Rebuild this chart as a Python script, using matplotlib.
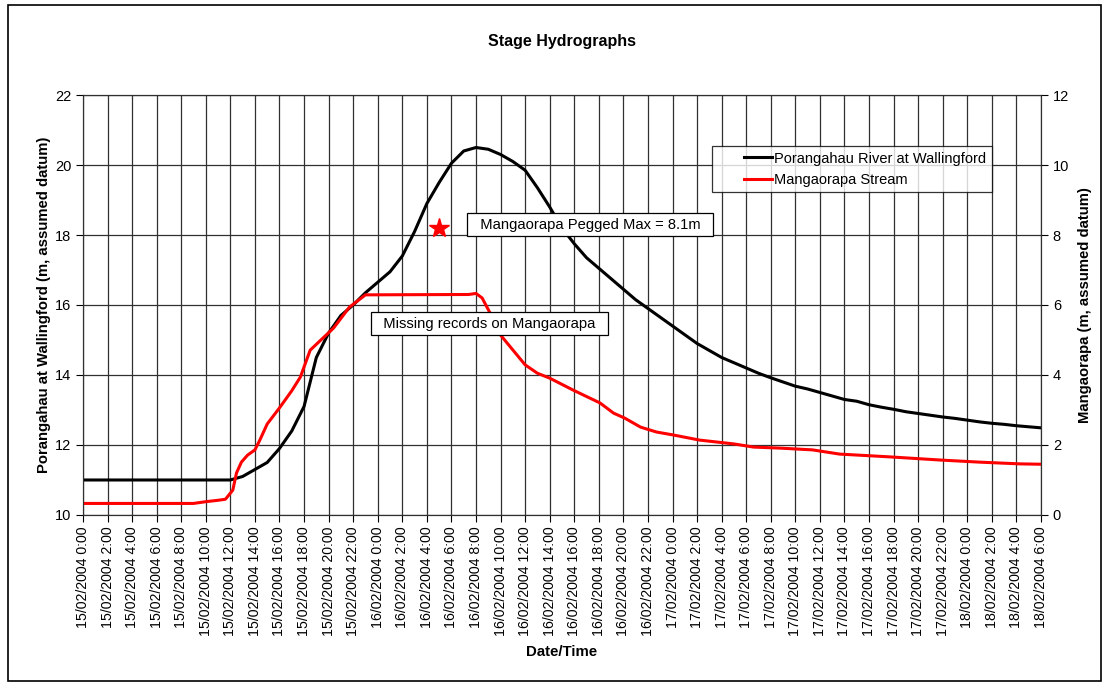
import numpy as np
import pandas as pd
import matplotlib
matplotlib.use('Agg')
import matplotlib.pyplot as plt
from matplotlib.patches import Rectangle
from matplotlib.legend_handler import HandlerLine2D

plt.rcParams['font.family'] = ['Liberation Sans', 'DejaVu Sans']

# hours after 15/02/2004 0:00
porangahau_hours = list(range(0, 79))
porangahau_stage = [11.0] * 13 + [
    11.1, 11.3, 11.5, 11.9, 12.4, 13.1, 14.5, 15.2, 15.7, 16.0,
    16.35, 16.65, 16.95, 17.4, 18.1, 18.9, 19.5, 20.05, 20.4, 20.5,
    20.45, 20.3, 20.1, 19.85, 19.35, 18.8, 18.2, 17.75, 17.35, 17.05,
    16.75, 16.45, 16.15, 15.9, 15.65, 15.4, 15.15, 14.9, 14.7, 14.5,
    14.35, 14.2, 14.05, 13.92, 13.8, 13.68, 13.6, 13.5, 13.4, 13.3,
    13.25, 13.15, 13.08, 13.02, 12.95, 12.9, 12.85, 12.8, 12.76, 12.71,
    12.66, 12.62, 12.59, 12.55, 12.52, 12.49]

mangaorapa_hours = [0, 9, 10, 11, 11.6, 12.2, 12.5, 12.9, 13.4, 14.0, 14.4,
                    15, 16, 17, 17.7, 18.5, 19.1, 20.4, 21.7, 23.0, 31.4, 32.0,
                    32.5, 33.1, 34.0, 34.8, 36.0, 37, 38.0, 39.9, 42.1, 43.2, 44.1,
                    45.4, 46.7, 48.0, 50.2, 53.0, 54.6, 56.8, 59.4, 61.6, 65.7,
                    69.8, 73.0, 76.3, 78]
mangaorapa_stage = [0.33, 0.33, 0.38, 0.42, 0.45, 0.71, 1.2, 1.51, 1.71, 1.86, 2.14,
                    2.6, 3.06, 3.55, 3.94, 4.71, 4.91, 5.34, 5.94, 6.29, 6.3, 6.33,
                    6.2, 5.8, 5.14, 4.8, 4.29, 4.05, 3.91, 3.57, 3.2, 2.91, 2.77,
                    2.51, 2.37, 2.29, 2.14, 2.03, 1.94, 1.91, 1.86, 1.74, 1.66,
                    1.57, 1.51, 1.46, 1.45]

pegged_max_hour = 29.0
pegged_max_stage = 8.2

tick_times = pd.date_range('2004-02-15 00:00', '2004-02-18 06:00', freq='2h')
tick_labels = [f'{t.day:02d}/{t.month:02d}/{t.year} {t.hour}:00' for t in tick_times]
tick_hours = list(range(0, 79, 2))


class ShortLineHandler(HandlerLine2D):
    # excel style: short line sitting at the right of the key area
    def create_artists(self, legend, orig_handle, xdescent, ydescent, width,
                       height, fontsize, trans):
        artists = super().create_artists(legend, orig_handle, xdescent, ydescent,
                                         width, height, fontsize, trans)
        for a in artists:
            n = len(a.get_xdata())
            if n >= 2:
                a.set_xdata(np.linspace(-xdescent + width * 0.5, -xdescent + width, n))
        return artists


def main():
    fig = plt.figure(figsize=(11.09, 6.85), dpi=100)
    ax = fig.add_axes([0.0748, 0.2482, 0.8639, 0.6131])
    ax2 = ax.twinx()

    fig.add_artist(Rectangle((8 / 1109, 4 / 685), 1093 / 1109, 676 / 685,
                             transform=fig.transFigure, fill=False,
                             edgecolor='black', linewidth=1.2))

    l1, = ax.plot(porangahau_hours, porangahau_stage, color='black', lw=2.2,
                  label='Porangahau River at Wallingford')
    l2, = ax2.plot(mangaorapa_hours, mangaorapa_stage, color='#ff0000', lw=2.2,
                   label='Mangaorapa Stream')
    ax2.plot([pegged_max_hour], [pegged_max_stage], marker='*', color='#ff0000',
             markersize=15, linestyle='none')

    ax.set_xlim(0, 78)
    ax.set_ylim(10, 22)
    ax.set_yticks(range(10, 23, 2))
    ax2.set_ylim(0, 12)
    ax2.set_yticks(range(0, 13, 2))
    ax.set_xticks(tick_hours)
    ax.set_xticklabels(tick_labels, rotation=90, fontsize=10.2)
    ax.tick_params(axis='y', labelsize=10.5, direction='out', length=5)
    ax.tick_params(axis='x', direction='out', length=5)
    ax2.tick_params(axis='y', labelsize=10.5, direction='out', length=5)
    ax.grid(True, color='#303030', linewidth=0.9)

    ax.set_title('Stage Hydrographs', fontsize=11.5, fontweight='bold', pad=35)
    ax.set_xlabel('Date/Time', fontsize=10.8, fontweight='bold', labelpad=6)
    ax.set_ylabel('Porangahau at Wallingford (m, assumed datum)', fontsize=10.7,
                  fontweight='bold', labelpad=3)
    ax2.set_ylabel('Mangaorapa (m, assumed datum)', fontsize=10.7,
                   fontweight='bold', labelpad=6)

    box = dict(boxstyle='square,pad=0.3', facecolor='white', edgecolor='black', lw=0.9)
    ax2.text(41.3, 8.29, '  Mangaorapa Pegged Max = 8.1m  ', ha='center', va='center',
             fontsize=10.6, bbox=box)
    ax2.text(33.1, 5.47, '  Missing records on Mangaorapa  ', ha='center', va='center',
             fontsize=10.6, bbox=box)

    leg = ax2.legend(handles=[l1, l2], loc='upper right',
                     bbox_to_anchor=(0.956, 0.895), fontsize=10.5, frameon=True,
                     fancybox=False, edgecolor='black', handlelength=3.8,
                     handletextpad=0.15, borderpad=0.35, labelspacing=0.5,
                     handler_map={l1: ShortLineHandler(), l2: ShortLineHandler()})
    leg.get_frame().set_linewidth(0.9)

    for a in (ax, ax2):
        for s in a.spines.values():
            s.set_color('#303030')

    fig.savefig('out.png', dpi=100)


if __name__ == '__main__':
    main()
